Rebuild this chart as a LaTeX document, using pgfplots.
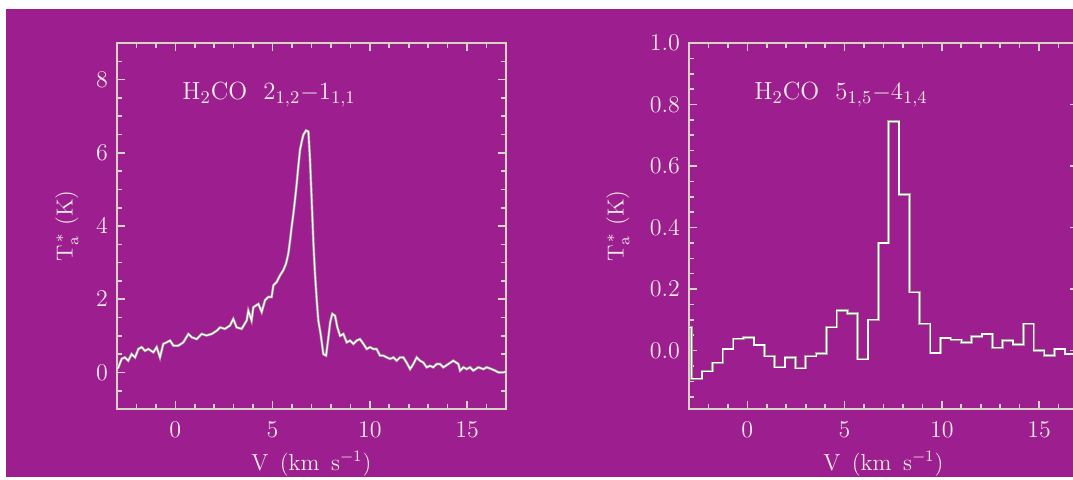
\documentclass[border=0pt]{standalone}
\usepackage{pgfplots}
\pgfplotsset{compat=1.18}
\definecolor{bgpurple}{RGB}{156,30,143}
\definecolor{fg}{RGB}{238,236,226}
\definecolor{axcol}{RGB}{214,210,198}
\definecolor{lineedge}{RGB}{165,160,152}
\pgfplotsset{
  spec/.style={
    scale only axis, width=194.5pt, height=183pt,
    axis line style={axcol, line width=0.9pt},
    every tick/.style={axcol, line width=0.8pt},
    major tick length=4pt, minor tick length=2.3pt,
    tick align=inside,
    xmin=-3, xmax=17,
    xtick={0,5,10,15}, minor xtick={-3,-2,...,17},
    ticklabel style={fg, font=\fontsize{11.6}{13}\selectfont},
    xticklabel style={yshift=-3pt},
    yticklabel style={xshift=-1pt},
    label style={fg, font=\fontsize{11.6}{13}\selectfont},
    xlabel={V\ \,(km\ \,s$^{-1}$)},
    xlabel style={at={(axis description cs:0.5,0)}, anchor=base, yshift=-30.5pt},
    clip=true,
  },
  outerline/.style={lineedge, line width=1.3pt, line join=miter},
  innerline/.style={white, line width=0.6pt, line join=miter},
}
\pgfplotstableread{
v T
-3.00 0.10
-2.93 0.14
-2.76 0.37
-2.59 0.41
-2.42 0.32
-2.25 0.50
-2.07 0.41
-1.90 0.64
-1.73 0.69
-1.56 0.59
-1.39 0.64
-1.13 0.55
-0.96 0.69
-0.79 0.41
-0.62 0.78
-0.45 0.82
-0.27 0.87
-0.10 0.73
0.15 0.73
0.41 0.82
0.67 1.05
0.84 0.96
1.10 0.91
1.35 1.05
1.61 1.01
1.87 1.05
2.13 1.14
2.30 1.23
2.55 1.19
2.81 1.28
2.98 1.46
3.15 1.23
3.41 1.19
3.67 1.42
3.75 1.69
3.92 1.42
4.01 1.78
4.27 1.87
4.44 1.65
4.61 1.97
4.78 2.06
4.95 2.06
5.04 2.38
5.21 2.47
5.38 2.65
5.55 2.79
5.69 2.97
5.81 3.25
5.90 3.61
5.98 3.98
6.07 4.34
6.15 4.71
6.24 5.16
6.32 5.62
6.41 6.08
6.50 6.31
6.58 6.49
6.72 6.61
6.84 6.58
6.92 5.85
7.01 4.71
7.10 3.52
7.18 2.70
7.27 1.97
7.35 1.42
7.47 1.05
7.61 0.50
7.75 0.46
7.87 0.96
7.96 1.37
8.07 1.60
8.21 1.55
8.33 1.23
8.47 1.00
8.64 1.05
8.81 0.82
8.98 0.87
9.15 0.78
9.32 0.87
9.49 0.91
9.67 0.78
9.84 0.64
10.01 0.69
10.18 0.64
10.35 0.64
10.52 0.46
10.69 0.46
10.87 0.41
11.04 0.37
11.21 0.41
11.38 0.32
11.55 0.41
11.72 0.41
11.89 0.27
12.07 0.09
12.24 0.23
12.41 0.41
12.58 0.32
12.75 0.27
12.92 0.14
13.09 0.18
13.26 0.14
13.44 0.23
13.61 0.23
13.78 0.14
14.04 0.23
14.29 0.32
14.55 0.23
14.64 0.05
14.81 0.14
14.98 0.09
15.15 0.14
15.32 0.05
15.58 0.14
15.84 0.09
16.01 0.14
16.26 0.09
16.44 0.05
16.61 0.00
16.86 0.00
17.00 0.02
}\specA
\pgfplotstableread{
v T
-3.393 0.076
-2.860 -0.092
-2.327 -0.067
-1.794 -0.040
-1.261 0.005
-0.728 0.038
-0.195 0.043
0.338 0.018
0.871 -0.018
1.404 -0.054
1.937 -0.022
2.470 -0.057
3.003 -0.018
3.536 -0.009
4.069 0.076
4.602 0.130
5.135 0.120
5.668 -0.028
6.201 0.100
6.734 0.350
7.267 0.744
7.800 0.508
8.333 0.190
8.866 0.087
9.399 -0.008
9.932 0.041
10.465 0.035
10.998 0.027
11.531 0.046
12.064 0.054
12.597 0.009
13.130 0.033
13.663 0.020
14.196 0.087
14.729 0.000
15.262 -0.016
15.795 0.005
16.328 -0.011
16.861 -0.011
17.394 -0.011
}\specB
\begin{document}
\begin{tikzpicture}
\fill[white] (0,0) rectangle (536.5pt,239.5pt);
\fill[bgpurple] (3pt,1pt) rectangle (536.5pt,235pt);
\begin{axis}[spec, at={(58.5pt,35pt)}, anchor=south west,
  ymin=-1, ymax=9, ytick={0,2,4,6,8}, minor ytick={-1,-0.5,...,9},
  ylabel={T$_{\mathrm{a}}^{\,*}$ (K)},
  ylabel style={at={(axis description cs:-0.129,0.5)}, anchor=center}]
\addplot[outerline] table[x=v,y=T] {\specA};
\addplot[innerline] table[x=v,y=T] {\specA};
\node[fg, anchor=base west, font=\fontsize{12.4}{14}\selectfont] at (axis cs:0,7.45) {H$_2$CO\ \ 2$_{1,2}$$-$1$_{1,1}$};
\end{axis}
\begin{axis}[spec, at={(344.5pt,35pt)}, anchor=south west,
  ymin=-0.19, ymax=1.0, ytick={0,0.2,0.4,0.6,0.8,1.0},
  minor ytick={-0.15,-0.1,-0.05,0.05,0.1,0.15,0.25,0.3,0.35,0.45,0.5,0.55,0.65,0.7,0.75,0.85,0.9,0.95},
  yticklabel style={/pgf/number format/.cd, fixed, fixed zerofill, precision=1},
  ylabel={T$_{\mathrm{a}}^{\,*}$ (K)},
  ylabel style={at={(axis description cs:-0.183,0.5)}, anchor=center}]
\addplot[outerline, const plot] table[x=v,y=T] {\specB};
\addplot[innerline, const plot] table[x=v,y=T] {\specB};
\node[fg, anchor=base west, font=\fontsize{12.4}{14}\selectfont] at (axis cs:0,0.815) {H$_2$CO\ \ 5$_{1,5}$$-$4$_{1,4}$};
\end{axis}
\pgfresetboundingbox
\path[use as bounding box] (0,0) rectangle (536.5pt,239.5pt);
\end{tikzpicture}
\end{document}
